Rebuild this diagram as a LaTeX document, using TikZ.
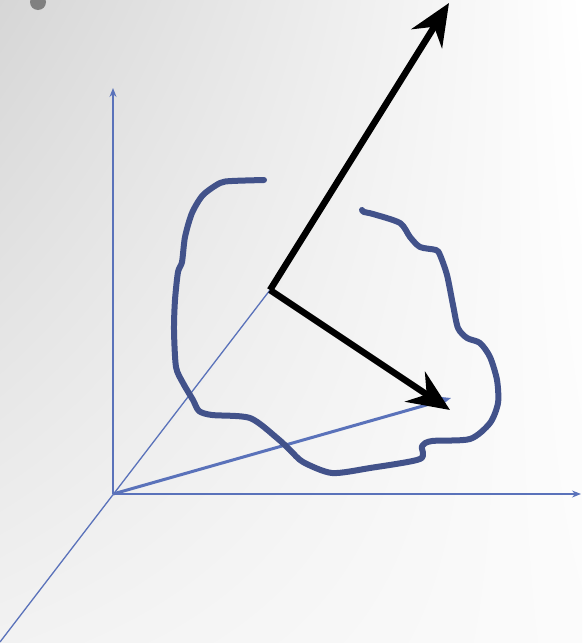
\documentclass[tikz,border=0pt]{standalone}
\usetikzlibrary{arrows.meta,shadings}
\definecolor{axisblue}{RGB}{90,114,186}
\definecolor{curveblue}{RGB}{66,82,138}
\definecolor{dotgray}{RGB}{128,128,128}
\tikzset{
  axisline/.style={draw=axisblue, line width=1.3pt},
  axisarrow/.style={axisline, -{Stealth[length=9pt,width=7pt,inset=3pt]}},
  bluevec/.style={draw=axisblue, line width=3pt, -{Stealth[length=14pt,width=11pt,inset=5pt]}},
  bigarrow/.style={draw=black, line width=6.5pt, -{Stealth[length=42pt,width=36pt,inset=14pt]}},
  blob/.style={draw=curveblue, line width=6pt, line cap=round, line join=round}
}
\begin{document}
\begin{tikzpicture}[x=1pt,y=-1pt]
\useasboundingbox (0,0) rectangle (582,643);
\shade[upper left=gray!32, upper right=white, lower left=gray!10, lower right=white!97!gray] (0,0) rectangle (582,643);
\fill[dotgray] (38,2) circle (8);
\coordinate (O) at (113,494);
\coordinate (Ytop) at (113,88);
\coordinate (Xend) at (581,494);
\coordinate (Zfar) at (0,642);
\coordinate (P) at (270,290);
\coordinate (V) at (451,398);
\coordinate (A1) at (449,3);
\coordinate (A2) at (450,410);
\draw[axisarrow] (O) -- (Ytop);
\draw[axisarrow] (O) -- (Xend);
\draw[axisline] (Zfar) -- (P);
\draw[bluevec] (O) -- (V);
\draw[blob] plot[smooth, tension=0.45] coordinates {
(264,180) (232,181) (220,183) (203,195) (192,213) (185,237) (182,262) (178,272) (175,300) (174,330) (176,367) (183,383) (193,400) (199,411) (212,415) (250,418) (277,438) (290,450) (303,462) (332,473) (370,468) (420,459) (422,446) (432,441) (470,439) (490,423) (498,403) (497,380) (490,357) (480,343) (467,338) (458,328) (453,305) (447,275) (440,255) (436,250) (420,247) (410,237) (400,223) (373,214) (364,212) (362,210)};
\draw[bigarrow] (P) -- (A1);
\draw[bigarrow] (P) -- (A2);
\end{tikzpicture}
\end{document}
